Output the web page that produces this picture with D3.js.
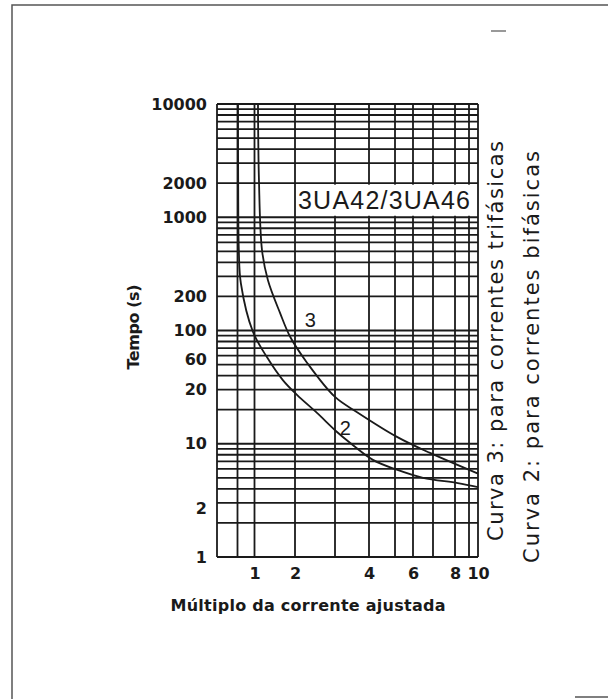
<!DOCTYPE html>
<html><head><meta charset="utf-8">
<script src="https://cdn.jsdelivr.net/npm/d3@7"></script>
<style>body{margin:0;background:#fff}</style>
</head><body>
<script>
// ---- data ----
const yTickValues = [1, 2.7, 10, 30, 56, 100, 200, 1000, 2000, 10000];
const yTickLabels = ["1", "2", "10", "20", "60", "100", "200", "1000", "2000", "10000"];
const xTickValues = [1, 2, 4, 6, 8, 10];
const xTickLabels = ["1", "2", "4", "6", "8", "10"];
const xGridValues = [0.75, 1, 2, 3, 4, 5, 6, 7, 8, 9, 10];
const curve2X = [0.757, 0.76, 0.77, 0.80, 0.978, 1.31, 1.70, 2.05, 2.55, 3.06, 3.44, 4.15, 5.1, 6.5, 8.2, 10];
const curve2T = [10000, 2000, 500, 260, 97, 58, 36.5, 27, 18.7, 12.7, 10.2, 7.2, 5.9, 5.0, 4.5, 4.15];
const curve3X = [1.086, 1.11, 1.185, 1.33, 1.63, 1.88, 2.3, 3.0, 3.65, 5.11, 6.85, 10];
const curve3T = [10000, 2133, 514, 279, 143, 88, 52, 25.9, 19, 11.5, 8.3, 5.45];
const curveNames = ["2", "3"];
const curveLabelX = [3.3, 2.38];
const curveLabelT = [13.8, 124];
const modelLabel = "3UA42/3UA46";
const yTitle = "Tempo (s)";
const xTitle = "Múltiplo da corrente ajustada";
const sideNotes = ["Curva 3: para correntes trifásicas", "Curva 2: para correntes bifásicas"];

// ---- drawing ----
const W = 608, H = 699;
const svg = d3.select("body").append("svg").attr("width", W).attr("height", H);
const ink = "#1a1a1a";
const labelFont = "'Liberation Sans', Arial, sans-serif";
const wideFont = "'DejaVu Sans', sans-serif";

const x = d3.scaleLinear()
  .domain([0.5, 0.75, 1, 2, 3, 4, 5, 6, 7, 8, 9, 10])
  .range([217, 237.5, 254.5, 295, 335, 369, 395, 413, 433, 455, 469, 478]);
const y = d3.scaleLog().domain([1, 10000]).range([557, 104]);

// frame
svg.append("path").attr("d", "M12,699 L12,5 L608,5").attr("fill", "none")
  .attr("stroke", "#555").attr("stroke-width", 1.5);
svg.append("line").attr("x1", 575).attr("x2", 608).attr("y1", 697).attr("y2", 697)
  .attr("stroke", "#555").attr("stroke-width", 1.5);
svg.append("line").attr("x1", 491).attr("x2", 506).attr("y1", 31).attr("y2", 31)
  .attr("stroke", "#555").attr("stroke-width", 1.2);

const g = svg.append("g");
// horizontal grid (log minor lines)
const hGrid = [];
for (let k = 0; k < 4; k++) for (let m = 1; m <= 9; m++) hGrid.push(m * Math.pow(10, k));
hGrid.push(10000);
g.selectAll("line.h").data(hGrid).join("line").attr("class", "h")
  .attr("x1", x(0.5)).attr("x2", x(10))
  .attr("y1", d => y(d)).attr("y2", d => y(d))
  .attr("stroke", ink).attr("stroke-width", 1.8);
// vertical grid
g.selectAll("line.v").data([0.5].concat(xGridValues)).join("line").attr("class", "v")
  .attr("x1", d => x(d)).attr("x2", d => x(d))
  .attr("y1", y(1)).attr("y2", y(10000))
  .attr("stroke", ink).attr("stroke-width", 1.8);

// model label box
g.append("rect").attr("x", x(2) + 1).attr("y", y(2000) + 1.5)
  .attr("width", x(10) - 5 - x(2) - 1).attr("height", y(1000) - y(2000) - 3)
  .attr("fill", "#fff");
g.append("text").attr("x", x(2) + 3).attr("y", (y(1000) + y(2000)) / 2 + 9)
  .attr("font-family", labelFont).attr("font-size", 25).attr("fill", ink)
  .attr("textLength", 172).text(modelLabel);

// curves
const line = d3.line().x(d => x(d[0])).y(d => y(d[1])).curve(d3.curveCatmullRom.alpha(0.5));
[[curve2X, curve2T], [curve3X, curve3T]].forEach(([xs, ts]) => {
  g.append("path").datum(xs.map((v, i) => [v, ts[i]])).attr("d", line)
    .attr("fill", "none").attr("stroke", ink).attr("stroke-width", 1.8);
});
curveNames.forEach((n, i) => {
  g.append("text").attr("x", x(curveLabelX[i])).attr("y", y(curveLabelT[i]))
    .attr("dy", "0.35em").attr("text-anchor", "middle")
    .attr("font-family", labelFont).attr("font-size", 20).attr("fill", ink).text(n);
});

// axes
const yAxis = d3.axisLeft(y).tickValues(yTickValues)
  .tickFormat((d, i) => yTickLabels[i]).tickSize(0).tickPadding(10);
const ya = svg.append("g").attr("transform", `translate(${x(0.5)},0)`).call(yAxis);
ya.select(".domain").remove();
ya.selectAll("text").attr("font-family", wideFont).attr("font-weight", "bold")
  .attr("font-size", 16).attr("fill", ink);

const xAxis = d3.axisBottom(x).tickValues(xTickValues)
  .tickFormat((d, i) => xTickLabels[i]).tickSize(0).tickPadding(11);
const xa = svg.append("g").attr("transform", `translate(0,${y(1)})`).call(xAxis);
xa.select(".domain").remove();
xa.selectAll("text").attr("font-family", wideFont).attr("font-weight", "bold")
  .attr("font-size", 16).attr("fill", ink);

// titles
svg.append("text").attr("transform", "translate(139,327) rotate(-90)")
  .attr("text-anchor", "middle").attr("font-family", wideFont).attr("font-weight", "bold")
  .attr("font-size", 16).attr("fill", ink).attr("textLength", 85).text(yTitle);
svg.append("text").attr("x", 308).attr("y", 611)
  .attr("text-anchor", "middle").attr("font-family", wideFont).attr("font-weight", "bold")
  .attr("font-size", 16).attr("fill", ink).attr("textLength", 275).text(xTitle);

const noteBase = [[503, 541, 400], [539, 563, 412]];
sideNotes.forEach((t, i) => {
  svg.append("text").attr("transform", `translate(${noteBase[i][0]},${noteBase[i][1]}) rotate(-90)`)
    .attr("font-family", wideFont).attr("font-size", 21).attr("fill", ink)
    .attr("textLength", noteBase[i][2]).attr("lengthAdjust", "spacing").text(t);
});
</script>
</body></html>
